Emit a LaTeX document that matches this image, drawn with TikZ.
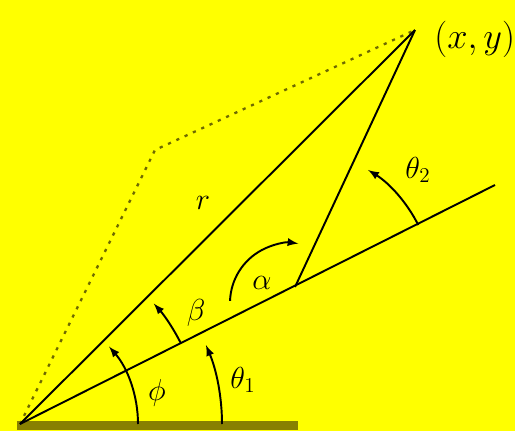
\documentclass[tikz,border=0pt]{standalone}
\usepackage{tikz}
\usepackage{amsmath}
\definecolor{bgyellow}{RGB}{255,255,0}
\definecolor{groundolive}{RGB}{136,128,0}
\definecolor{dotolive}{RGB}{110,105,0}

\begin{document}
\begin{tikzpicture}
		\tikzset{>=latex}
		\tikzset{link/.style={line width=1.1pt},
			angarc/.style={line width=1.1pt,->},
			lbl/.style={font=\LARGE, inner sep=0pt}}
		\fill[bgyellow] (-0.4,-0.14) rectangle (9.9,8.48);
		\useasboundingbox (-0.4,-0.14) rectangle (9.9,8.48);
		% points
		\coordinate (O) at (0,0);
		\coordinate (E) at (5.5,2.74);
		\coordinate (L) at (9.5,4.78);
		\coordinate (P) at (7.9,7.88);
		\coordinate (Q) at (2.7,5.48);
		\coordinate (G1) at (-0.06,-0.03);
		\coordinate (G2) at (5.56,-0.03);
		% ground
		\draw[line width=5pt, groundolive] (G1) -- (G2);
		% dotted parallelogram
		\draw[line width=1.3pt, dotolive, dash pattern=on 1.8pt off 3.4pt] (O) -- (Q) -- (P);
		% links
		\draw[link] (O) -- (L);
		\draw[link] (E) -- (P);
		\draw[link] (O) -- (P);
		% angles
		\draw[angarc] (O) ++(0:2.36) arc[start angle=0, end angle=41, radius=2.36];
		\draw[angarc] (O) ++(0:4.04) arc[start angle=0, end angle=23, radius=4.04];
		\draw[angarc] (O) ++(26.7:3.6) arc[start angle=26.7, end angle=42, radius=3.6];
		\draw[angarc] (E) ++(-0.1,-0.32) ++(178:1.2) arc[start angle=178, end angle=82, radius=1.2];
		\draw[angarc] (E) ++(26.7:2.76) arc[start angle=26.7, end angle=58, radius=2.76];
		% labels
		\node[lbl] (r) at (3.66,4.42) {$r$};
		\node[lbl] (phi) at (2.74,0.62) {$\phi$};
		\node[lbl] (th1) at (4.46,0.88) {$\theta_1$};
		\node[lbl] (beta) at (3.52,2.22) {$\beta$};
		\node[lbl] (alpha) at (4.84,2.82) {$\alpha$};
		\node[lbl] (th2) at (7.96,5.08) {$\theta_2$};
		\node[lbl, font=\huge, right] (xy) at (8.28,7.7) {$(x,y)$};

	\end{tikzpicture}
\end{document}
